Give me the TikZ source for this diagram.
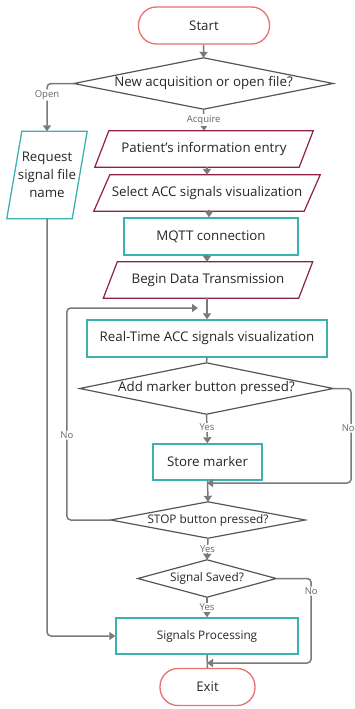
\documentclass[tikz,border=0pt]{standalone}
\usepackage{fontspec}
\setmainfont{Open Sans}
\usetikzlibrary{arrows.meta}
\definecolor{teal1}{HTML}{3DB1B0}
\definecolor{salm}{HTML}{E8706F}
\definecolor{crim}{HTML}{8E1E4C}
\definecolor{dia}{HTML}{555555}
\definecolor{arr}{HTML}{7A7A7A}
\definecolor{lab}{HTML}{666666}
\begin{document}
\begin{tikzpicture}[x=1pt,y=-1pt,
  every node/.style={inner sep=0pt, font=\fontsize{13.3}{16}\selectfont, text=black!85},
  term/.style={draw=salm, line width=1.3pt, rounded corners=18pt, minimum width=131pt, minimum height=37pt},
  proc/.style={draw=teal1, line width=1.4pt, minimum height=37pt},
  ghost/.style={draw=none},
  diashape/.style={draw=dia, line width=1.2pt},
  paral/.style={draw=crim, line width=1.2pt},
  paralt/.style={draw=teal1, line width=1.3pt},
  conn/.style={draw=arr, line width=1.5pt, -{Triangle[length=6pt,width=8pt]}},
  line/.style={draw=arr, line width=1.5pt},
  lbl/.style={fill=white, text=lab, font=\fontsize{9.5}{11}\selectfont, inner sep=1pt},
  small/.style={font=\fontsize{11.8}{14}\selectfont}
]
\useasboundingbox (0,0) rectangle (355,709);

% terminals
\node[term] (start) at (204,25.5) {Start};
\node[term, minimum width=95pt] (exit) at (207.5,687) {Exit};

% diamonds
\node[ghost, minimum width=259pt, minimum height=51pt] (d1) at (203.5,83.5) {New acquisition or open file?};
\draw[diashape] (d1.north) -- (d1.east) -- (d1.south) -- (d1.west) -- cycle;
\node[ghost, minimum width=253pt, minimum height=51pt] (d2) at (206.5,388.5) {Add marker button pressed?};
\draw[diashape] (d2.north) -- (d2.east) -- (d2.south) -- (d2.west) -- cycle;
\node[ghost, minimum width=194pt, minimum height=36pt, small] (d3) at (208,520) {STOP button pressed?};
\draw[diashape] (d3.north) -- (d3.east) -- (d3.south) -- (d3.west) -- cycle;
\node[ghost, minimum width=138pt, minimum height=37pt, small] (d4) at (207,578.5) {Signal Saved?};
\draw[diashape] (d4.north) -- (d4.east) -- (d4.south) -- (d4.west) -- cycle;

% parallelograms
\node[ghost, minimum width=204pt, minimum height=36pt] (pat) at (204,149) {Patient's information entry};
\draw[paral] ([xshift=7pt]pat.north west) -- ([xshift=7pt]pat.north east) -- ([xshift=-7pt]pat.south east) -- ([xshift=-7pt]pat.south west) -- cycle;
\node[ghost, minimum width=210pt, minimum height=36pt] (sel) at (207,193) {Select ACC signals visualization};
\draw[paral] ([xshift=8pt]sel.north west) -- ([xshift=8pt]sel.north east) -- ([xshift=-8pt]sel.south east) -- ([xshift=-8pt]sel.south west) -- cycle;
\node[ghost, minimum width=195pt, minimum height=36pt] (beg) at (208,280) {Begin Data Transmission};
\draw[paral] ([xshift=7pt]beg.north west) -- ([xshift=7pt]beg.north east) -- ([xshift=-7pt]beg.south east) -- ([xshift=-7pt]beg.south west) -- cycle;
\node[ghost, minimum width=65pt, minimum height=87pt, align=center, font=\fontsize{13.3}{18}\selectfont] (req) at (47,175) {Request\\signal file\\name};
\draw[paralt] ([xshift=7.5pt]req.north west) -- ([xshift=7.5pt]req.north east) -- ([xshift=-7.5pt]req.south east) -- ([xshift=-7.5pt]req.south west) -- cycle;

% process boxes
\node[proc, minimum width=174pt] (mqtt) at (211,236.5) {MQTT connection};
\node[proc, minimum width=240pt] (rt) at (207,338.5) {Real-Time ACC signals visualization};
\node[proc, minimum width=109pt, minimum height=36pt] (store) at (207.5,462) {Store marker};
\node[proc, minimum width=182pt, minimum height=36pt, small] (sp) at (207,636) {Signals Processing};

% junction coordinates
\coordinate (j1) at (207,483);
\coordinate (j2) at (198,308);
\coordinate (j3) at (207,663);

% connectors
\draw[conn] (start) -- (d1.north);
\draw[conn, rounded corners=4pt] (d1.west) -| node[lbl, pos=0.62] {Open} (req.north);
\draw[conn] (d1.south) -- node[lbl] {Acquire} (pat.north);
\draw[conn] (sel.north |- pat.south) -- (sel.north);
\draw[conn] (mqtt.north -| 209,0) ++(0,-7) -- (mqtt.north -| 209,0);
\draw[conn] (beg.north -| 207,0) ++(0,-7) -- (beg.north -| 207,0);
\draw[conn] (rt.north |- beg.south) -- (rt.north);
\draw[line] (rt.south) -- (d2.north);
\draw[conn] (d2.south) -- node[lbl, pos=0.45] {Yes} (store.north);
\draw[conn, rounded corners=4pt] (d2.east) -- ++(18,0) |- node[lbl, pos=0.21, xshift=-3pt] {No} (j1);
\draw[conn] (store.south) -- (d3.north);
\draw[conn, rounded corners=4pt] (d3.west) -- ++(-44,0) |- node[lbl, pos=0.2] {No} (j2);
\draw[conn] (d3.south) -- node[lbl] {Yes} (d4.north);
\draw[conn, rounded corners=4pt] (d4.east) -- ++(35,0) |- node[lbl, pos=0.075] {No} (j3);
\draw[conn] (d4.south) -- node[lbl] {Yes} (sp.north);
\draw[line] (sp.south) -- (exit.north);
\draw[conn, rounded corners=4pt] (req.south) |- (sp.west);
\end{tikzpicture}
\end{document}
